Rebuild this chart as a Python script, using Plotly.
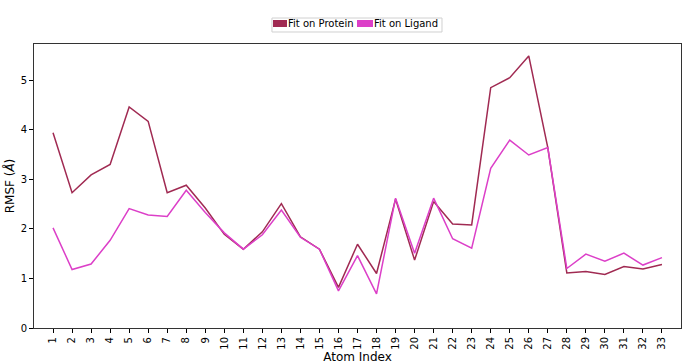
import plotly.graph_objects as go

atom_index = list(range(1, 34))
fit_on_protein = [3.94, 2.73, 3.09, 3.30, 4.46, 4.17, 2.73, 2.88, 2.42, 1.89, 1.59, 1.94, 2.51, 1.84, 1.59,
                  0.82, 1.69, 1.10, 2.60, 1.37, 2.55, 2.10, 2.08, 4.85, 5.05, 5.49, 3.64, 1.11, 1.14, 1.08,
                  1.24, 1.19, 1.28]
fit_on_ligand = [2.02, 1.18, 1.29, 1.77, 2.41, 2.28, 2.25, 2.78, 2.33, 1.92, 1.59, 1.88, 2.38, 1.83, 1.59,
                 0.75, 1.46, 0.69, 2.62, 1.51, 2.62, 1.80, 1.61, 3.22, 3.79, 3.49, 3.64, 1.20, 1.49, 1.35,
                 1.51, 1.27, 1.42]
tick_labels = [str(i) for i in atom_index]
series_names = ["Fit on Protein", "Fit on Ligand"]

c_prot = "#a02a52"
c_lig = "#dc3fc8"
font = "DejaVu Sans"

fig = go.Figure()
fig.add_trace(go.Scatter(x=atom_index, y=fit_on_protein, mode="lines", name=series_names[0],
                         line=dict(color=c_prot, width=1.5), showlegend=False))
fig.add_trace(go.Scatter(x=atom_index, y=fit_on_ligand, mode="lines", name=series_names[1],
                         line=dict(color=c_lig, width=1.5), showlegend=False))

# legend drawn in paper coordinates (matplotlib-style compact legend)
fig.add_shape(type="rect", xref="paper", yref="paper", x0=0.3678, x1=0.6306, y0=1.0423, y1=1.0915,
              line=dict(color="#d0d0d0", width=1), fillcolor="white", layer="above")
for (xa, xb, xt, name, col) in [(0.3694, 0.3910, 0.3926, series_names[0], c_prot),
                                (0.4992, 0.5240, 0.5255, series_names[1], c_lig)]:
    fig.add_shape(type="rect", xref="paper", yref="paper", x0=xa, x1=xb, y0=1.0599, y1=1.0845,
                  line=dict(width=0), fillcolor=col, layer="above")
    fig.add_annotation(xref="paper", yref="paper", x=xt, y=1.0722, xanchor="left", yanchor="middle",
                       text=name, showarrow=False, font=dict(size=10, color="black", family=font),
                       xshift=-2)

fig.update_layout(
    width=690, height=364,
    margin=dict(l=34, r=9, t=44, b=36, autoexpand=False),
    paper_bgcolor="white", plot_bgcolor="white",
    font=dict(family=font, size=10, color="black"),
    showlegend=False,
)
fig.update_xaxes(range=[0, 34], tickmode="array", tickvals=atom_index, ticktext=tick_labels,
                 tickangle=-90, ticks="outside", ticklen=4, tickcolor="black",
                 showline=True, linecolor="#333333", linewidth=1, mirror=True,
                 showgrid=False, zeroline=False,
                 title=dict(text="Atom Index", font=dict(size=12), standoff=2))
fig.update_yaxes(range=[0, 5.73], tickvals=[0, 1, 2, 3, 4, 5],
                 ticks="outside", ticklen=4, tickcolor="black",
                 showline=True, linecolor="#333333", linewidth=1, mirror=True,
                 showgrid=False, zeroline=False,
                 title=dict(text="RMSF (<i>Å</i>)", font=dict(size=12), standoff=3))

fig.write_html("out.html", config={"displayModeBar": False},
               post_script="document.body.style.margin='0';")
